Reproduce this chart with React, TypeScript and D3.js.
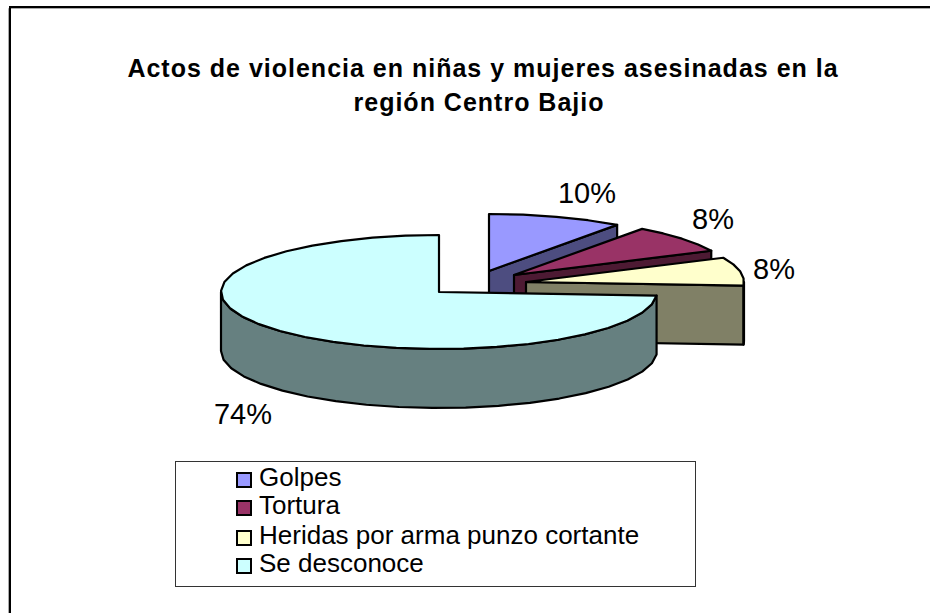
import React from 'react';
import * as d3 from 'd3';

const categories = ['Golpes', 'Tortura', 'Heridas por arma punzo cortante', 'Se desconoce'];
const values = [10, 8, 8, 74];
const pctLabels = ['10%', '8%', '8%', '74%'];
const topColors = ['#9999ff', '#993366', '#ffffcc', '#ccffff'];
const wallColors = ['#4d4d80', '#4d1a33', '#808066', '#668080'];

// centre of the ellipse for each slice once exploded
const centres = [
  [489, 271],
  [514, 275],
  [526, 282],
  [439, 292],
];
const labelPos = [
  [587, 203],
  [713, 229],
  [774, 279],
  [243, 424],
];
const legendBaselines = [486, 514, 544, 572];
const rx = 218;
const ry = 57;
const depth = 59;

const fontFamily = '"Liberation Sans", Arial, sans-serif';

const arcs = d3.pie<number>().sort(null)(values);

// angle 0 is 12 o'clock, clockwise
function rim(i: number, a: number): [number, number] {
  const [cx, cy] = centres[i];
  return [cx + rx * Math.sin(a), cy - ry * Math.cos(a)];
}

// coarse steps on purpose, the original rim is a rough polyline
function rimPoints(i: number, a0: number, a1: number): [number, number][] {
  const n = Math.max(2, Math.ceil(Math.abs(a1 - a0) / 0.16));
  return d3.range(n + 1).map((k) => rim(i, a0 + ((a1 - a0) * k) / n));
}

const line = d3.line();

function topPath(i: number) {
  const a = arcs[i];
  return line([centres[i] as [number, number], ...rimPoints(i, a.startAngle, a.endAngle)]) + 'Z';
}

// face left by the cut at the end angle of a slice
function cutPath(i: number) {
  const p0 = centres[i] as [number, number];
  const p1 = rim(i, arcs[i].endAngle);
  return line([p0, p1, [p1[0], p1[1] + depth], [p0[0], p0[1] + depth]]) + 'Z';
}

// outer wall, only the part that faces the viewer
function wallPath(i: number) {
  const a0 = Math.max(arcs[i].startAngle, Math.PI / 2);
  const a1 = Math.min(arcs[i].endAngle, (3 * Math.PI) / 2);
  if (a1 <= a0) return null;
  const top = rimPoints(i, a0, a1);
  const bottom = top.map(([x, y]) => [x, y + depth] as [number, number]).reverse();
  return line([...top, ...bottom]) + 'Z';
}

export default function App() {
  return (
    <svg
      width={930}
      height={613}
      style={{ position: 'absolute', left: 0, top: 0, background: '#fff' }}
      fontFamily={fontFamily}
    >
      {/* frame is cropped: only top and left edges are in the picture */}
      <path d="M8.5,613V8.5H930" fill="none" stroke="#aaa" strokeWidth={1} />
      <path d="M10,613V7H930" fill="none" stroke="#000" strokeWidth={2} />

      <text textAnchor="middle" fontSize={25} fontWeight="bold" fill="#000" letterSpacing={1}>
        <tspan x={483} y={77}>Actos de violencia en niñas y mujeres asesinadas en la</tspan>
        <tspan x={479} y={111}>región Centro Bajio</tspan>
      </text>

      {arcs.map((_, i) => {
        const wall = wallPath(i);
        return (
          <g key={categories[i]} stroke="#000" strokeWidth={2.2} strokeLinejoin="round">
            {i < 3 && <path d={cutPath(i)} fill={wallColors[i]} />}
            {wall && <path d={wall} fill={wallColors[i]} />}
            <path d={topPath(i)} fill={topColors[i]} />
          </g>
        );
      })}

      {pctLabels.map((t, i) => (
        <text key={i} x={labelPos[i][0]} y={labelPos[i][1]} textAnchor="middle" fontSize={29} fill="#000">
          {t}
        </text>
      ))}

      <rect x={175.5} y={461.5} width={520} height={125} fill="#fff" stroke="#333" strokeWidth={1} />
      {categories.map((c, i) => (
        <g key={c}>
          <rect x={237} y={legendBaselines[i] - 13} width={14} height={14} fill={topColors[i]} stroke="#000" strokeWidth={2} />
          <text x={259} y={legendBaselines[i]} fontSize={26} fill="#000">
            {c}
          </text>
        </g>
      ))}
    </svg>
  );
}
